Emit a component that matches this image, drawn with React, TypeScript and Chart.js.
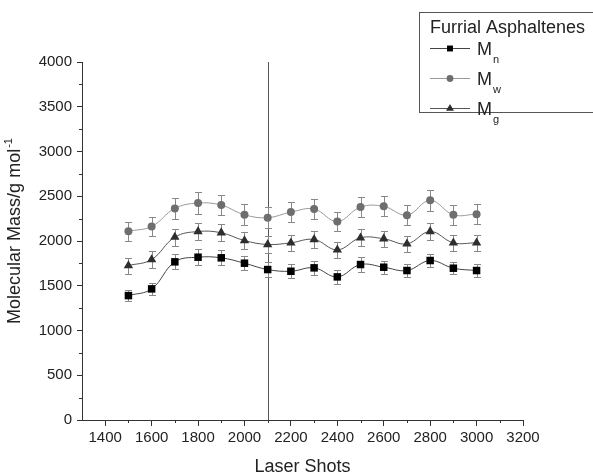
import React, { useEffect, useRef } from "react";
import { Chart, registerables } from "chart.js";

Chart.register(...registerables);

const laserShots = [1500, 1600, 1700, 1800, 1900, 2000, 2100, 2200, 2300, 2400, 2500, 2600, 2700, 2800, 2900, 3000];
const mnValues = [1390, 1465, 1767, 1819, 1812, 1752, 1681, 1662, 1700, 1599, 1737, 1707, 1670, 1782, 1696, 1670];
const mwValues = [2110, 2162, 2364, 2424, 2401, 2293, 2260, 2323, 2357, 2218, 2379, 2387, 2289, 2454, 2293, 2300];
const mgValues = [1725, 1793, 2043, 2106, 2092, 2005, 1961, 1980, 2017, 1901, 2036, 2025, 1968, 2106, 1980, 1980];
const mnErrors = [65, 70, 85, 88, 85, 80, 80, 80, 75, 75, 80, 75, 70, 75, 70, 75];
const mwErrors = [105, 110, 118, 118, 115, 115, 118, 115, 115, 110, 115, 112, 108, 115, 112, 112];
const mgErrors = [90, 90, 95, 98, 95, 92, 95, 92, 92, 90, 95, 92, 90, 95, 90, 90];
const xTickValues = [1400, 1600, 1800, 2000, 2200, 2400, 2600, 2800, 3000, 3200];
const xMinorTicks = [1500, 1700, 1900, 2100, 2300, 2500, 2700, 2900, 3100];
const yTickValues = [0, 500, 1000, 1500, 2000, 2500, 3000, 3500, 4000];
const yMinorTicks = [250, 750, 1250, 1750, 2250, 2750, 3250, 3750];
const markerShot = 2100;
const legendTitle = "Furrial Asphaltenes";
const seriesNames = ["n", "w", "g"];

const FONT = "'Liberation Sans', Arial, sans-serif";
const TEXT = "#222";

const seriesStyles = [
  { line: "#444", fill: "#000", style: "rect", radius: 5.3, legendRadius: 4.2 },
  { line: "#9a9a9a", fill: "#6e6e6e", style: "circle", radius: 4, legendRadius: 3.4 },
  { line: "#555", fill: "#2e2e2e", style: "triangle", radius: 5.4, legendRadius: 4.6 },
];
const errorArrays = [mnErrors, mwErrors, mgErrors];
const valueArrays = [mnValues, mwValues, mgValues];

function drawMarker(ctx: CanvasRenderingContext2D, style: string, r: number, x: number, y: number) {
  ctx.beginPath();
  if (style === "rect") {
    const h = Math.SQRT1_2 * r;
    ctx.rect(x - h, y - h, 2 * h, 2 * h);
  } else if (style === "circle") {
    ctx.arc(x, y, r, 0, Math.PI * 2);
  } else {
    const a = (2 * Math.PI) / 3;
    ctx.moveTo(x, y - r);
    ctx.lineTo(x + Math.sin(a) * r, y - Math.cos(a) * r);
    ctx.lineTo(x + Math.sin(2 * a) * r, y - Math.cos(2 * a) * r);
    ctx.closePath();
  }
  ctx.fill();
}

const customPlugin = {
  id: "custom",
  beforeDatasetsDraw(chart: any) {
    const ctx = chart.ctx;
    const xs = chart.scales.x;
    const ys = chart.scales.y;
    const area = chart.chartArea;
    ctx.save();
    const vx = Math.round(xs.getPixelForValue(markerShot)) + 0.5;
    ctx.strokeStyle = "#555";
    ctx.lineWidth = 1;
    ctx.beginPath();
    ctx.moveTo(vx, area.top);
    ctx.lineTo(vx, area.bottom);
    ctx.stroke();
    ctx.strokeStyle = "#333";
    for (const v of xMinorTicks) {
      const px = Math.round(xs.getPixelForValue(v)) + 0.5;
      ctx.beginPath();
      ctx.moveTo(px, area.bottom);
      ctx.lineTo(px, area.bottom + 3);
      ctx.stroke();
    }
    for (const v of yMinorTicks) {
      const py = Math.round(ys.getPixelForValue(v)) + 0.5;
      ctx.beginPath();
      ctx.moveTo(area.left, py);
      ctx.lineTo(area.left - 3, py);
      ctx.stroke();
    }
    ctx.strokeStyle = "#888";
    for (let s = 0; s < 3; s++) {
      const vals = valueArrays[s];
      const errs = errorArrays[s];
      for (let i = 0; i < laserShots.length; i++) {
        const px = Math.round(xs.getPixelForValue(laserShots[i])) + 0.5;
        const hi = Math.round(ys.getPixelForValue(vals[i] + errs[i])) + 0.5;
        const lo = Math.round(ys.getPixelForValue(vals[i] - errs[i])) + 0.5;
        ctx.beginPath();
        ctx.moveTo(px, hi);
        ctx.lineTo(px, lo);
        ctx.moveTo(px - 3.5, hi);
        ctx.lineTo(px + 3.5, hi);
        ctx.moveTo(px - 3.5, lo);
        ctx.lineTo(px + 3.5, lo);
        ctx.stroke();
      }
    }
    ctx.restore();
  },
  afterDraw(chart: any) {
    const ctx = chart.ctx;
    const area = chart.chartArea;
    ctx.save();
    ctx.fillStyle = TEXT;
    ctx.font = `18px ${FONT}`;
    ctx.textAlign = "center";
    ctx.textBaseline = "alphabetic";
    ctx.fillText("Laser Shots", (area.left + area.right) / 2, 472);
    ctx.save();
    ctx.translate(20, 231);
    ctx.rotate(-Math.PI / 2);
    ctx.font = `18px ${FONT}`;
    const main = "Molecular Mass/g mol";
    const mainW = ctx.measureText(main).width;
    ctx.font = `11px ${FONT}`;
    const sup = "-1";
    const supW = ctx.measureText(sup).width;
    const total = mainW + supW + 1;
    ctx.textAlign = "left";
    ctx.font = `18px ${FONT}`;
    ctx.fillText(main, -total / 2, 0);
    ctx.font = `11px ${FONT}`;
    ctx.fillText(sup, -total / 2 + mainW + 1, -8);
    ctx.restore();
    ctx.strokeStyle = "#555";
    ctx.lineWidth = 1;
    ctx.strokeRect(419.5, 12.5, 200, 100);
    ctx.textAlign = "left";
    ctx.font = `18px ${FONT}`;
    ctx.fillText(legendTitle, 430, 33);
    const rows = [48, 78, 108];
    for (let s = 0; s < 3; s++) {
      const st = seriesStyles[s];
      const y = rows[s] + 0.5;
      ctx.strokeStyle = st.line;
      ctx.beginPath();
      ctx.moveTo(430, y);
      ctx.lineTo(470, y);
      ctx.stroke();
      ctx.fillStyle = st.fill;
      drawMarker(ctx, st.style, st.legendRadius, 450, y);
      ctx.fillStyle = TEXT;
      ctx.font = `18px ${FONT}`;
      ctx.fillText("M", 477, rows[s] + 7);
      const mW = ctx.measureText("M").width;
      ctx.font = `11px ${FONT}`;
      ctx.fillText(seriesNames[s], 477 + mW + 1, rows[s] + 15);
    }
    ctx.restore();
  },
};

export default function App() {
  const ref = useRef<HTMLCanvasElement | null>(null);
  useEffect(() => {
    if (!ref.current) return;
    const ds = valueArrays.map((vals, s) => ({
      label: "M" + seriesNames[s],
      data: vals.map((v, i) => ({ x: laserShots[i], y: v })),
      borderColor: seriesStyles[s].line,
      borderWidth: 1,
      backgroundColor: seriesStyles[s].fill,
      pointBackgroundColor: seriesStyles[s].fill,
      pointBorderColor: seriesStyles[s].fill,
      pointBorderWidth: 0,
      pointStyle: seriesStyles[s].style,
      pointRadius: seriesStyles[s].radius,
      tension: 0.4,
      fill: false,
    }));
    const chart = new Chart(ref.current, {
      type: "line",
      data: { datasets: ds as any },
      options: {
        animation: false,
        responsive: true,
        maintainAspectRatio: false,
        layout: { padding: { left: 0, top: 62, right: 70, bottom: 0 } },
        plugins: { legend: { display: false }, tooltip: { enabled: false } },
        scales: {
          x: {
            type: "linear",
            min: 1300,
            max: 3200,
            afterBuildTicks: (s: any) => {
              s.ticks = xTickValues.map((v) => ({ value: v }));
            },
            afterFit: (s: any) => {
              s.height = 55;
            },
            ticks: {
              font: { family: FONT, size: 15 },
              color: TEXT,
              padding: 3,
              maxRotation: 0,
              autoSkip: false,
              callback: (v: any) => String(v),
            },
            grid: { drawOnChartArea: false, drawTicks: true, tickLength: 6, tickColor: "#333" },
            border: { color: "#333", width: 1 },
          },
          y: {
            type: "linear",
            min: 0,
            max: 4000,
            afterBuildTicks: (s: any) => {
              s.ticks = yTickValues.map((v) => ({ value: v }));
            },
            afterFit: (s: any) => {
              s.width = 82;
            },
            ticks: {
              font: { family: FONT, size: 15 },
              color: TEXT,
              padding: 5,
              callback: (v: any) => String(v),
            },
            grid: { drawOnChartArea: false, drawTicks: true, tickLength: 5, tickColor: "#333" },
            border: { color: "#333", width: 1 },
          },
        },
      },
      plugins: [customPlugin],
    });
    return () => chart.destroy();
  }, []);
  return (
    <div style={{ position: "fixed", left: 0, top: 0, width: 593, height: 475, background: "#fff" }}>
      <canvas ref={ref} />
    </div>
  );
}
